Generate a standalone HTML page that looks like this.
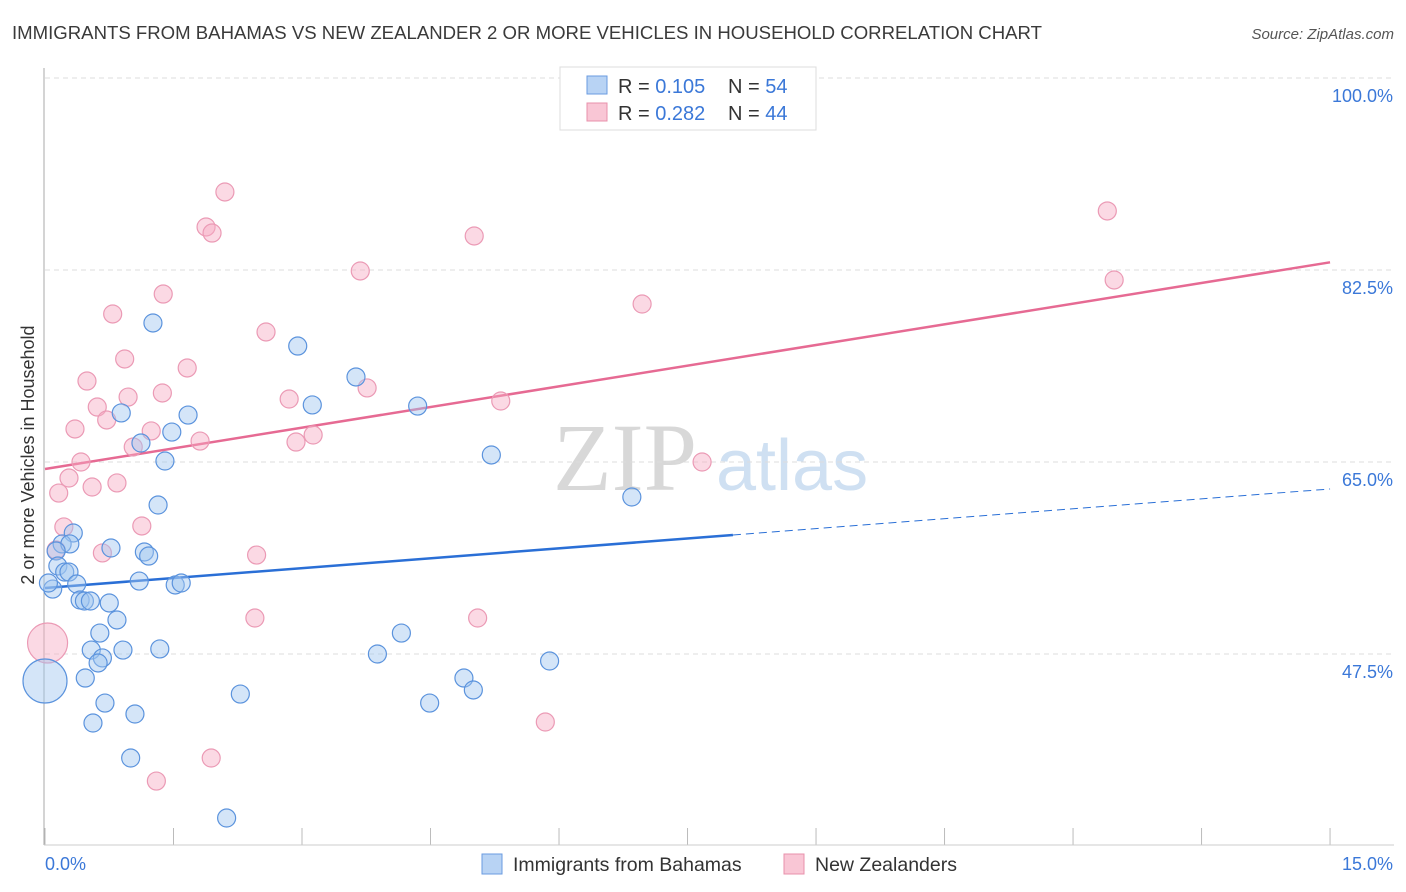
<!DOCTYPE html>
<html><head><meta charset="utf-8"><style>
body{margin:0;background:#fff;font-family:"Liberation Sans",sans-serif}
svg{display:block}
</style></head><body>
<svg id="c" width="1406" height="892" xmlns="http://www.w3.org/2000/svg">
<text x="12" y="39" font-size="18.5" fill="#3a3a3a" textLength="1030" lengthAdjust="spacingAndGlyphs">IMMIGRANTS FROM BAHAMAS VS NEW ZEALANDER 2 OR MORE VEHICLES IN HOUSEHOLD CORRELATION CHART</text>
<text x="1394" y="39" font-size="15" fill="#555" font-style="italic" text-anchor="end">Source: ZipAtlas.com</text>
<g>
<text x="553" y="490" font-size="96" font-family="Liberation Serif,serif" fill="#d8d8d8">ZIP</text>
<text x="716" y="490" font-size="72" fill="#cfe0f2">atlas</text>
</g>
<g id="grid"></g>
<line x1="44" y1="68" x2="44" y2="845" stroke="#aaa"/>
<line x1="44" y1="845" x2="1394" y2="845" stroke="#ccc"/>
<g id="trends"></g>
<g id="pts"></g>
<text x="34" y="455" font-size="18" fill="#333" text-anchor="middle" transform="rotate(-90 34 455)">2 or more Vehicles in Household</text>
<text x="45" y="870" font-size="18" fill="#3b78d8">0.0%</text>
<text x="1393" y="870" font-size="18" fill="#3b78d8" text-anchor="end">15.0%</text>
<g>
<rect x="560" y="67" width="256" height="63" fill="#fff" stroke="#ddd"/>
<rect x="587" y="76" width="20" height="18" fill="#b8d3f4" stroke="#6a9be0"/>
<rect x="587" y="103" width="20" height="18" fill="#f9c6d5" stroke="#e890ab"/>
<text x="618" y="93" font-size="20" fill="#333">R = <tspan fill="#3b78d8">0.105</tspan></text>
<text x="728" y="93" font-size="20" fill="#333">N = <tspan fill="#3b78d8">54</tspan></text>
<text x="618" y="120" font-size="20" fill="#333">R = <tspan fill="#3b78d8">0.282</tspan></text>
<text x="728" y="120" font-size="20" fill="#333">N = <tspan fill="#3b78d8">44</tspan></text>
</g>
<g>
<rect x="482" y="854" width="20" height="20" fill="#b8d3f4" stroke="#6a9be0"/>
<text x="513" y="871" font-size="19.5" fill="#333">Immigrants from Bahamas</text>
<rect x="784" y="854" width="20" height="20" fill="#f9c6d5" stroke="#e890ab"/>
<text x="815" y="871" font-size="19.5" fill="#333">New Zealanders</text>
</g>
</svg>
<script>
const yTicks=[47.5,65.0,82.5,100.0];
const xTickVals=[0,1.5,3,4.5,6,7.5,9,10.5,12,13.5,15];
const blueX=[1.26,2.95,3.63,0.89,1.67,3.12,4.35,1.48,1.12,1.40,5.21,6.85,1.32,0.33,0.20,0.29,0.77,0.13,1.16,1.21,0.15,0.23,0.28,0.37,1.10,1.52,1.59,0.09,0.41,0.46,0.53,0.75,0.84,0.64,4.16,0.54,0.91,1.34,3.88,0.67,0.62,5.89,0.47,4.89,5.00,2.28,0.70,4.49,1.05,0.56,1.00,2.12,0.04,0.0];
const blueY=[77.67,75.57,72.75,69.47,69.28,70.2,70.1,67.73,66.73,65.09,65.64,61.81,61.08,58.53,57.53,57.53,57.16,56.89,56.8,56.43,55.52,54.97,54.97,53.88,54.15,53.79,53.97,53.42,52.42,52.33,52.33,52.15,50.6,49.41,49.41,47.86,47.86,47.96,47.5,47.14,46.68,46.86,45.31,45.31,44.22,43.85,43.03,43.03,42.03,41.21,38.02,32.55,53.97,45.04];
const blueR=[9,9,9,9,9,9,9,9,9,9,9,9,9,9,9,9,9,9,9,9,9,9,9,9,9,9,9,9,9,9,9,9,9,9,9,9,9,9,9,9,9,9,9,9,9,9,9,9,9,9,9,9,9,22];
const pinkX=[2.10,1.88,1.95,5.01,3.68,1.38,0.79,2.58,0.93,1.66,0.49,3.76,1.37,0.97,2.85,0.61,5.32,0.72,0.35,1.24,3.13,1.81,2.93,1.03,0.42,7.67,0.28,0.55,0.84,0.16,0.22,1.13,0.67,2.47,2.45,5.05,5.84,1.94,1.30,12.40,12.48,6.97,0.13,0.03];
const pinkY=[89.61,86.42,85.87,85.6,82.41,80.31,78.49,76.85,74.39,73.57,72.38,71.75,71.29,70.92,70.74,70.01,70.56,68.83,68.01,67.83,67.46,66.91,66.82,66.37,65.0,65.0,63.54,62.72,63.09,62.17,59.08,59.17,56.71,56.52,50.78,50.78,41.3,38.02,35.92,87.88,81.59,79.4,56.98,48.5];
const pinkR=[9,9,9,9,9,9,9,9,9,9,9,9,9,9,9,9,9,9,9,9,9,9,9,9,9,9,9,9,9,9,9,9,9,9,9,9,9,9,9,9,9,9,9,20];
const blueTrend=[53.52,62.54];
const pinkTrend=[64.36,83.2];
const blueSolidEnd=8.03;
const NS="http://www.w3.org/2000/svg";
const X=v=>45+v*85.67;
const Y=v=>462-(v-65)*192/17.5;
function mk(t,a,p){const e=document.createElementNS(NS,t);for(const k in a)e.setAttribute(k,a[k]);p.appendChild(e);return e;}
const grid=document.getElementById('grid');
yTicks.forEach(t=>{
 const l=mk('line',{x1:45,x2:1394,y1:Y(t),y2:Y(t),stroke:'#ddd','stroke-dasharray':'5,4'},grid);
 
 
 const tx=mk('text',{x:1393,y:Y(t)+24,'font-size':18,fill:'#3b78d8','text-anchor':'end'},grid);
 tx.textContent=t.toFixed(1)+'%';
 
 
});
xTickVals.forEach(t=>{
 const l=mk('line',{x1:X(t),x2:X(t),y1:828,y2:845,stroke:'#bbb'},grid);
 
 
});
const tr=document.getElementById('trends');
const lb=(v)=>blueTrend[0]+(blueTrend[1]-blueTrend[0])*v/15;
let l1=mk('line',{x1:X(0),y1:Y(blueTrend[0]),x2:X(blueSolidEnd),y2:Y(lb(blueSolidEnd)),stroke:'#2a6fd6','stroke-width':2.5},tr);


let l2=mk('line',{x1:X(blueSolidEnd),y1:Y(lb(blueSolidEnd)),x2:X(15),y2:Y(blueTrend[1]),stroke:'#2a6fd6','stroke-width':1,'stroke-dasharray':'8,5'},tr);


let l3=mk('line',{x1:X(0),y1:Y(pinkTrend[0]),x2:X(15),y2:Y(pinkTrend[1]),stroke:'#e66a93','stroke-width':2.5},tr);


const pts=document.getElementById('pts');
pinkX.forEach((v,i)=>{
 const c=mk('circle',{cx:X(v),cy:Y(pinkY[i]),r:pinkR[i],fill:'rgba(246,170,195,0.45)',stroke:'#eb9ab5','stroke-width':1.2},pts);
 
 
});
blueX.forEach((v,i)=>{
 const c=mk('circle',{cx:X(v),cy:Y(blueY[i]),r:blueR[i],fill:'rgba(160,198,240,0.45)',stroke:'#5b93dd','stroke-width':1.2},pts);
 
 
});
</script>
</body></html>
